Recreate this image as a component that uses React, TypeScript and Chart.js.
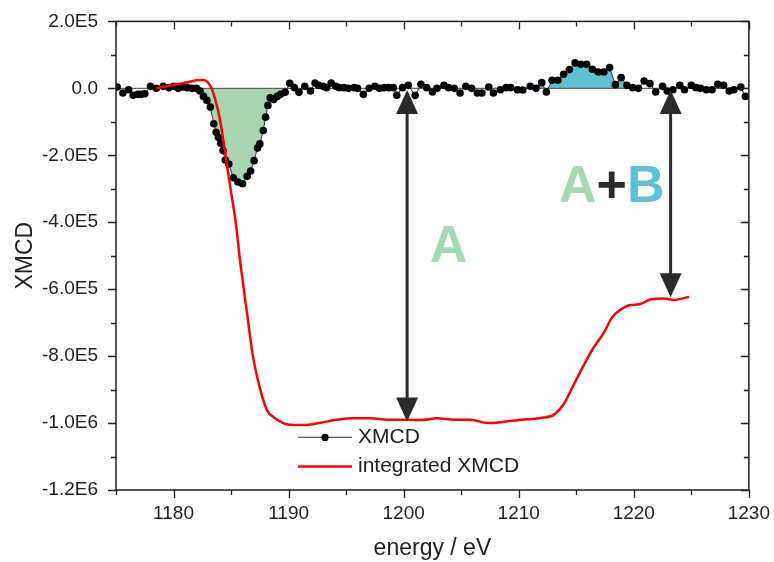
import React, { useEffect, useRef } from 'react';
import { Chart, registerables } from 'chart.js';

Chart.register(...registerables);

const FONT = '"Liberation Sans", Arial, Helvetica, sans-serif';

// ---- data (energy in eV, signal in units of 1E5) ----
const xmcdEnergy = [
  1175.1, 1175.6, 1176.1, 1176.5, 1176.9, 1177.2, 1177.5, 1178.0, 1178.5, 1179.1,
  1179.6, 1180.0, 1180.4, 1180.8, 1181.2, 1181.6, 1182.0, 1182.3, 1182.6, 1182.9,
  1183.2, 1183.5, 1183.7, 1183.9, 1184.1, 1184.3, 1184.5, 1184.8, 1185.2, 1185.6,
  1186.0, 1186.4, 1186.7, 1187.0, 1187.3, 1187.5, 1187.8, 1188.0, 1188.2, 1188.4,
  1188.7, 1189.0, 1189.3, 1189.7, 1190.1, 1190.5, 1190.9, 1191.4, 1191.9, 1192.3,
  1192.6, 1193.0, 1193.3, 1193.7, 1194.1, 1194.4, 1194.8, 1195.2, 1195.7, 1196.0,
  1196.5, 1197.0, 1197.5, 1197.9, 1198.3, 1198.7, 1199.1, 1199.4, 1199.9, 1200.4,
  1201.0, 1201.5, 1202.0, 1202.5, 1202.9, 1203.5, 1203.9, 1204.4, 1204.9, 1205.4,
  1205.9, 1206.4, 1206.8, 1207.4, 1207.8, 1208.4, 1208.9, 1209.3, 1209.9, 1210.35,
  1211.0, 1211.5, 1212.0, 1212.4, 1212.9, 1213.4, 1213.9, 1214.4, 1214.9, 1215.4,
  1215.9, 1216.4, 1216.9, 1217.4, 1217.9, 1218.4, 1218.9, 1219.4, 1219.9, 1220.4,
  1220.9, 1221.4, 1221.9, 1222.5, 1222.9, 1223.4, 1224.0, 1224.4, 1225.0, 1225.4,
  1225.8, 1226.3, 1226.8, 1227.3, 1227.8, 1228.3, 1228.7, 1229.3, 1229.7,
];
const xmcdSignalE5 = [
  0.04, -0.14, -0.04, -0.21, -0.18, -0.18, -0.16, 0.06, 0.0, 0.06,
  0.02, 0.06, 0.0, 0.04, 0.02, 0.0, 0.0, -0.08, -0.24, -0.36,
  -0.56, -1.06, -1.31, -1.46, -1.64, -1.86, -2.14, -2.26, -2.67, -2.8,
  -2.85, -2.63, -2.47, -2.16, -1.78, -1.66, -1.26, -0.86, -0.51, -0.28,
  -0.33, -0.24, -0.18, -0.12, 0.15, 0.02, -0.12, 0.06, -0.08, 0.16,
  0.09, 0.06, 0.02, 0.16, 0.06, 0.02, 0.02, 0.0, 0.02, 0.0,
  -0.18, 0.0, 0.06, 0.0, 0.02, 0.02, 0.02, -0.21, 0.02, 0.09,
  -0.21, 0.12, 0.02, -0.11, 0.0, 0.09, 0.02, 0.0, -0.14, 0.06,
  0.0, -0.14, -0.14, 0.04, -0.14, -0.04, 0.02, 0.02, -0.04, -0.05,
  0.06, 0.0, 0.17, -0.11, 0.24, 0.24, 0.42, 0.56, 0.76, 0.72,
  0.72, 0.57, 0.49, 0.49, 0.62, 0.11, 0.32, 0.09, 0.02, 0.0,
  0.22, 0.14, -0.11, 0.06, -0.08, -0.04, 0.09, -0.04, 0.09, 0.02,
  0.0, -0.04, -0.04, 0.12, 0.09, -0.08, -0.04, 0.04, -0.24,
];

const integratedEnergy = [
  1178.5, 1179.4, 1180.3, 1181.2, 1182.0, 1182.6, 1183.2, 1183.6, 1184.05, 1184.6,
  1185.0, 1185.4, 1185.8, 1186.4, 1186.9, 1187.5, 1188.1, 1188.8, 1189.9, 1191.3,
  1192.8, 1194.2, 1195.7, 1197.1, 1198.6, 1200.3, 1201.5, 1202.9, 1204.4, 1205.8,
  1207.3, 1208.7, 1210.2, 1211.9, 1213.1, 1213.9, 1214.8, 1215.7, 1216.5, 1217.4,
  1218.1, 1218.9, 1219.6, 1220.5, 1221.5, 1222.6, 1223.5, 1224.8,
];
const integratedSignalE5 = [
  0.0, 0.06, 0.12, 0.18, 0.24, 0.25, 0.07, -0.3, -0.96, -2.2,
  -3.1, -4.0, -5.2, -6.75, -8.0, -8.95, -9.6, -9.85, -10.04, -10.06,
  -9.99, -9.9, -9.86, -9.86, -9.9, -9.9, -9.91, -9.86, -9.9, -9.9,
  -10.0, -9.96, -9.9, -9.85, -9.74, -9.44, -8.84, -8.24, -7.75, -7.3,
  -6.85, -6.6, -6.48, -6.45, -6.3, -6.28, -6.32, -6.23,
];

// shaded areas (energy ranges)
const areaARange = [1182.0, 1190.1];
const areaBRange = [1211.5, 1220.4];

// axes
const xMin = 1175;
const xMax = 1230;
const xTickValues = [1180, 1190, 1200, 1210, 1220, 1230];
const xMinorStep = 5;
const yMinE5 = -12;
const yMaxE5 = 2;
const yTickValuesE5 = [2, 0, -2, -4, -6, -8, -10, -12];
const yMinorStepE5 = 1;

// annotation arrows (energy, top value, bottom value in 1E5)
const arrowEnergy = [1200.3, 1223.2];
const arrowTopE5 = [-0.05, -0.05];
const arrowBottomE5 = [-9.95, -6.24];

// annotation labels
const labelAPos = [1203.9, -5.2];
const labelABPos = [1213.5, -3.4];

const GREEN_FILL = '#a7d5b2';
const CYAN_FILL = '#5ec3d0';
const GREEN_TEXT = '#a6d8b4';
const CYAN_TEXT = '#5cc3d0';
const DARK = '#2b2b2b';

function fmtY(v: number): string {
  if (Math.abs(v) < 1e-6) return '0.0';
  return v.toExponential(1).toUpperCase().replace('E+', 'E');
}

function drawDoubleArrow(ctx: CanvasRenderingContext2D, x: number, y1: number, y2: number) {
  const headL = 24;
  const headW = 11;
  ctx.save();
  ctx.strokeStyle = DARK;
  ctx.fillStyle = DARK;
  ctx.lineWidth = 3;
  ctx.beginPath();
  ctx.moveTo(x, y1 + headL - 2);
  ctx.lineTo(x, y2 - headL + 2);
  ctx.stroke();
  ctx.beginPath();
  ctx.moveTo(x, y1);
  ctx.lineTo(x - headW, y1 + headL);
  ctx.lineTo(x + headW, y1 + headL);
  ctx.closePath();
  ctx.fill();
  ctx.beginPath();
  ctx.moveTo(x, y2);
  ctx.lineTo(x - headW, y2 - headL);
  ctx.lineTo(x + headW, y2 - headL);
  ctx.closePath();
  ctx.fill();
  ctx.restore();
}

const decorPlugin = {
  id: 'decor',
  afterDatasetsDraw(chart: any) {
    const { ctx } = chart;
    const xs = chart.scales.x;
    const ys = chart.scales.y;
    arrowEnergy.forEach((e, i) => {
      drawDoubleArrow(
        ctx,
        xs.getPixelForValue(e),
        ys.getPixelForValue(arrowTopE5[i] * 1e5),
        ys.getPixelForValue(arrowBottomE5[i] * 1e5)
      );
    });
    ctx.save();
    ctx.textBaseline = 'alphabetic';
    ctx.font = `bold 52px ${FONT}`;
    ctx.fillStyle = GREEN_TEXT;
    ctx.textAlign = 'center';
    ctx.fillText('A', xs.getPixelForValue(labelAPos[0]), ys.getPixelForValue(labelAPos[1] * 1e5));
    ctx.textAlign = 'left';
    ctx.font = `bold 52px ${FONT}`;
    let px = xs.getPixelForValue(labelABPos[0]);
    const py = ys.getPixelForValue(labelABPos[1] * 1e5);
    const parts: [string, string][] = [['A', GREEN_TEXT], ['+', DARK], ['B', CYAN_TEXT]];
    parts.forEach(([t, c]) => {
      ctx.fillStyle = c;
      ctx.fillText(t, px, py);
      px += ctx.measureText(t).width;
    });
    ctx.restore();
  },
  afterDraw(chart: any) {
    const { ctx, chartArea } = chart;
    const xs = chart.scales.x;
    const ys = chart.scales.y;
    const { left, right, top, bottom } = chartArea;
    ctx.save();
    ctx.strokeStyle = '#1e1e1e';
    ctx.lineWidth = 1.5;
    ctx.strokeRect(left, top, right - left, bottom - top);
    ctx.lineWidth = 1.3;
    ctx.beginPath();
    for (let e = xMin; e <= xMax + 1e-6; e += xMinorStep) {
      const p = Math.round(xs.getPixelForValue(e)) + 0.5;
      const major = xTickValues.includes(e);
      const len = major ? 8 : 5;
      ctx.moveTo(p, bottom);
      ctx.lineTo(p, bottom + len);
      ctx.moveTo(p, top);
      ctx.lineTo(p, top + len);
    }
    for (let v = yMinE5; v <= yMaxE5 + 1e-6; v += yMinorStepE5) {
      const p = Math.round(ys.getPixelForValue(v * 1e5)) + 0.5;
      const major = yTickValuesE5.includes(v);
      const len = major ? 8 : 5;
      ctx.moveTo(left, p);
      ctx.lineTo(left - len, p);
      ctx.moveTo(right, p);
      ctx.lineTo(right - len, p);
    }
    ctx.stroke();

    // legend
    const lx0 = left + 182;
    const lx1 = left + 236;
    const tx = left + 242;
    const r1 = top + 416;
    const r2 = top + 445;
    ctx.strokeStyle = '#555555';
    ctx.lineWidth = 1.2;
    ctx.beginPath();
    ctx.moveTo(lx0, r1);
    ctx.lineTo(lx1, r1);
    ctx.stroke();
    ctx.fillStyle = '#000000';
    ctx.beginPath();
    ctx.arc((lx0 + lx1) / 2, r1, 3.6, 0, Math.PI * 2);
    ctx.fill();
    ctx.strokeStyle = '#ff0000';
    ctx.lineWidth = 2.5;
    ctx.beginPath();
    ctx.moveTo(lx0, r2);
    ctx.lineTo(lx1, r2);
    ctx.stroke();
    ctx.fillStyle = '#1e1e1e';
    ctx.font = `21px ${FONT}`;
    ctx.textAlign = 'left';
    ctx.textBaseline = 'middle';
    ctx.fillText('XMCD', tx, r1);
    ctx.fillText('integrated XMCD', tx, r2);
    ctx.restore();
  },
};

export default function App() {
  const canvasRef = useRef<HTMLCanvasElement | null>(null);

  useEffect(() => {
    const canvas = canvasRef.current;
    if (!canvas) return;

    const xmcdPoints = xmcdEnergy.map((e, i) => ({ x: e, y: xmcdSignalE5[i] * 1e5 }));
    const intPoints = integratedEnergy.map((e, i) => ({ x: e, y: integratedSignalE5[i] * 1e5 }));
    const areaA = xmcdPoints.filter((p) => p.x >= areaARange[0] && p.x <= areaARange[1]);
    const areaB = xmcdPoints.filter((p) => p.x >= areaBRange[0] && p.x <= areaBRange[1]);
    const zeroLine = [{ x: xMin, y: 0 }, { x: xMax, y: 0 }];

    const chart = new Chart(canvas, {
      type: 'line',
      data: {
        datasets: [
          {
            label: 'integrated XMCD',
            data: intPoints,
            borderColor: '#ff0000',
            borderWidth: 2.5,
            pointRadius: 0,
            cubicInterpolationMode: 'monotone',
            fill: false,
            order: 0,
          },
          {
            label: 'XMCD',
            data: xmcdPoints,
            borderColor: '#333333',
            borderWidth: 1,
            pointRadius: 3.8,
            pointBackgroundColor: '#000000',
            pointBorderWidth: 0,
            tension: 0,
            fill: false,
            order: 1,
          },
          {
            label: 'zero',
            data: zeroLine,
            borderColor: '#444444',
            borderWidth: 1,
            pointRadius: 0,
            fill: false,
            order: 2,
          },
          {
            label: 'A',
            data: areaA,
            borderWidth: 0,
            borderColor: 'rgba(0,0,0,0)',
            pointRadius: 0,
            fill: { target: 'origin', above: 'rgba(0,0,0,0)', below: GREEN_FILL },
            order: 3,
          },
          {
            label: 'B',
            data: areaB,
            borderWidth: 0,
            borderColor: 'rgba(0,0,0,0)',
            pointRadius: 0,
            fill: { target: 'origin', above: CYAN_FILL, below: 'rgba(0,0,0,0)' },
            order: 3,
          },
        ],
      } as any,
      options: {
        animation: false,
        responsive: false,
        maintainAspectRatio: false,
        layout: { padding: { top: 18.5, right: 21, left: 0, bottom: 0 } },
        plugins: {
          legend: { display: false },
          tooltip: { enabled: false },
        },
        scales: {
          x: {
            type: 'linear',
            min: xMin,
            max: xMax,
            grid: { display: false },
            border: { display: false },
            afterBuildTicks: (scale: any) => {
              scale.ticks = xTickValues.map((v) => ({ value: v }));
            },
            afterFit: (scale: any) => {
              scale.height = 72;
            },
            ticks: {
              padding: 4,
              color: '#1e1e1e',
              font: { family: FONT, size: 19 },
              maxRotation: 0,
              callback: (v: any) => String(v),
            },
            title: {
              display: true,
              text: 'energy / eV',
              color: '#1e1e1e',
              font: { family: FONT, size: 23 },
              padding: { top: 0, bottom: 0 },
            },
          },
          y: {
            type: 'linear',
            min: yMinE5 * 1e5,
            max: yMaxE5 * 1e5,
            grid: { display: false },
            border: { display: false },
            afterBuildTicks: (scale: any) => {
              scale.ticks = yTickValuesE5.map((v) => ({ value: v * 1e5 }));
            },
            afterFit: (scale: any) => {
              scale.width = 116;
            },
            ticks: {
              padding: 10,
              color: '#1e1e1e',
              font: { family: FONT, size: 19 },
              callback: (v: any) => fmtY(Number(v)),
            },
            title: {
              display: true,
              text: 'XMCD',
              color: '#1e1e1e',
              font: { family: FONT, size: 23 },
              padding: { top: 12, bottom: 0 },
            },
          },
        },
      } as any,
      plugins: [decorPlugin],
    });

    return () => {
      chart.destroy();
    };
  }, []);

  return (
    <div style={{ position: 'fixed', left: 0, top: 0, width: 774, height: 562, background: '#ffffff' }}>
      <canvas ref={canvasRef} width={774} height={562} style={{ display: 'block', width: 774, height: 562 }} />
    </div>
  );
}
